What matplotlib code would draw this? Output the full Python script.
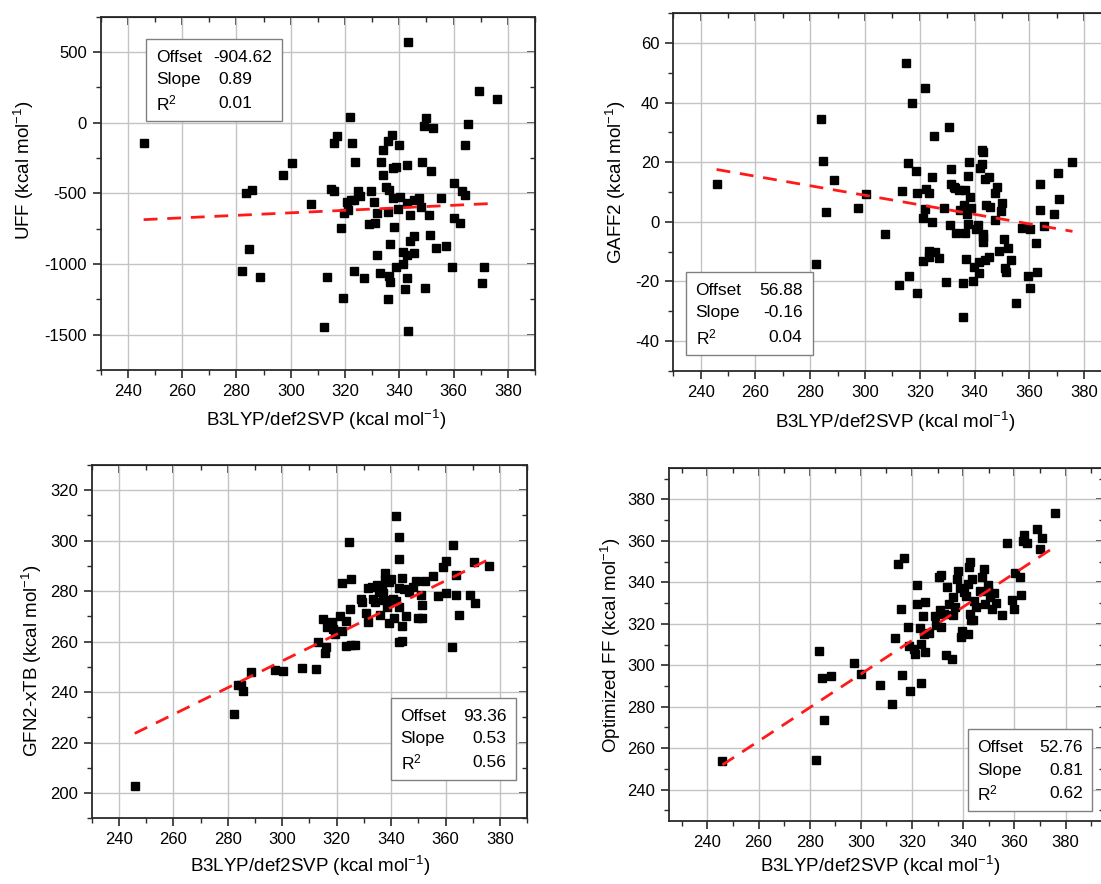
import matplotlib.pyplot as plt
from matplotlib.patches import Rectangle
from matplotlib.ticker import MultipleLocator

plt.rcParams['font.family'] = ['Liberation Sans', 'DejaVu Sans']
plt.rcParams['mathtext.default'] = 'regular'
plt.rcParams['axes.unicode_minus'] = False

# UFF vs B3LYP
uff_x = [245.8, 283.6, 285.7, 284.7, 282.1, 288.5, 297.2, 300.4, 307.5, 313.4, 312.4, 314.8, 316.1,
         315.8, 317.2, 322.0, 322.5, 323.7, 319.5, 318.5, 319.3, 320.7, 321.0, 322.3, 323.3, 325.4,
         324.7, 323.4, 327.0, 329.6, 329.0, 330.6, 331.1, 331.8, 331.8, 332.8, 333.4, 333.9, 334.0,
         334.9, 335.7, 336.0, 336.3, 336.3, 336.5, 336.0, 336.7, 337.4, 337.6, 337.6, 338.1, 338.7,
         338.7, 339.5, 339.9, 340.1, 341.2, 341.5, 342.2, 342.7, 342.8, 343.0, 343.0, 343.1, 343.2,
         343.9, 344.1, 345.3, 345.4, 345.4, 347.4, 348.0, 348.2, 349.2, 349.6, 350.0, 351.0, 351.4,
         351.7, 352.4, 353.4, 355.5, 357.2, 359.5, 360.3, 360.3, 362.4, 363.0, 364.0, 364.0, 365.4,
         369.3, 370.4, 371.1, 375.8]
uff_y = [-141, -499, -473, -892, -1048, -1090, -372, -282, -572, -1095, -1445, -466, -480,
         -144, -94, 40, -144, -280, -636, -742, -1243, -563, -619, -544, -546, -518,
         -483, -1052, -1099, -485, -716, -560, -709, -636, -935, -1062, -275, -372, -195,
         -454, -633, -127, -475, -1088, -1130, -1245, -857, -87, -322, -532, -737, -313,
         -1019, -610, -160, -525, -998, -918, -1179, -1097, -939, -297, -567, -1476, 574,
         -652, -836, -920, -548, -800, -532, -593, -275, -26, -1168, 33, -654, -798,
         -341, -38, -883, -534, -871, -1019, -426, -673, -709, -483, -513, -160, -7,
         226, -1135, -1019, 165]

# GAFF2 vs B3LYP
gaff_x = [245.8, 283.8, 284.8, 285.8, 288.7, 282.2, 297.3, 300.3, 307.4, 314.9, 321.9, 317.1, 330.5,
          325.1, 315.8, 318.5, 313.3, 318.9, 322.3, 323.5, 324.5, 321.9, 321.0, 324.5, 312.4, 316.1,
          319.1, 321.2, 323.3, 323.4, 325.5, 327.0, 329.5, 328.9, 330.9, 331.5, 331.5, 332.4, 332.9,
          334.1, 336.3, 334.7, 336.2, 337.3, 338.4, 338.6, 337.4, 338.0, 333.3, 336.4, 337.6, 335.8,
          335.8, 336.8, 339.3, 339.7, 340.4, 341.3, 341.5, 341.7, 342.1, 342.6, 342.6, 342.9, 343.7,
          345.2, 344.1, 345.6, 343.0, 342.9, 343.0, 343.8, 345.1, 347.5, 348.0, 347.6, 349.9, 349.6,
          349.0, 350.8, 351.2, 351.4, 352.2, 353.3, 355.2, 357.4, 360.3, 359.4, 360.3, 362.2, 362.8,
          363.9, 363.9, 365.2, 369.0, 370.3, 370.9, 375.7]
gaff_y = [12.8, 34.4, 20.5, 3.2, 14.1, -14.2, 4.7, 9.3, -4.2, 53.2, 44.8, 39.8, 31.9,
          28.7, 19.7, 16.9, 10.2, 9.6, 10.9, 9.6, 15.0, 4.3, 1.3, 0.0, -21.4, -18.3,
          -23.8, -13.3, -9.9, -11.9, -10.2, -12.3, -20.1, 4.6, -1.0, 17.8, 12.8, 11.6, 11.2,
          10.6, 10.8, 3.8, 5.7, 2.5, 8.3, 4.7, 15.3, 20.0, -3.8, -3.8, -0.8, -20.4,
          -32.1, -12.4, -19.8, -15.2, -2.3, -1.0, -13.4, -17.2, 17.9, 19.3, 24.0, 23.3, 14.5,
          15.0, 5.5, 5.1, -4.0, -5.1, -6.8, -12.7, -12.0, 9.7, 11.8, 0.7, 6.3, 3.7,
          -9.8, -5.8, -15.5, -16.8, -8.7, -12.9, -27.2, -2.0, -2.6, -18.2, -22.2, -7.0, -16.9,
          12.7, 3.8, -1.3, 2.6, 16.2, 7.7, 20.0]

# GFN2-xTB vs B3LYP
xtb_x = [245.8, 282.1, 283.6, 284.9, 285.4, 288.5, 297.2, 300.1, 307.3, 312.3, 313.2, 314.8, 315.6,
         316.0, 316.5, 318.4, 318.7, 319.2, 321.3, 321.8, 321.9, 323.3, 323.3, 324.5, 325.0, 325.4,
         325.4, 326.9, 328.9, 329.4, 331.4, 330.8, 331.6, 333.1, 333.5, 334.1, 334.9, 335.4, 335.9,
         336.5, 337.0, 337.8, 337.9, 337.5, 338.4, 339.2, 340.1, 339.2, 340.8, 341.2, 341.7, 341.9,
         343.0, 342.8, 342.8, 342.8, 344.1, 343.8, 343.0, 343.9, 344.9, 345.5, 346.6, 347.9, 349.1,
         349.8, 350.9, 351.3, 351.5, 352.5, 355.2, 357.2, 359.2, 360.3, 360.1, 362.2, 362.9, 363.8,
         363.8, 365.1, 369.0, 370.3, 370.8, 375.8]
xtb_y = [203.0, 231.4, 242.9, 242.9, 240.5, 248.0, 248.8, 248.4, 249.6, 249.1, 260.0, 269.0, 255.5,
         257.8, 265.7, 267.6, 265.0, 262.9, 270.2, 283.2, 264.1, 268.3, 258.3, 299.4, 272.8, 284.8,
         258.5, 258.7, 276.9, 275.6, 281.1, 271.2, 267.6, 281.8, 276.9, 275.8, 282.5, 279.5, 270.4,
         281.5, 279.1, 287.3, 284.5, 276.5, 273.6, 283.5, 284.8, 267.3, 277.0, 269.4, 309.6, 276.2,
         301.3, 292.8, 273.6, 281.2, 285.2, 266.1, 259.7, 260.3, 280.8, 270.2, 279.5, 281.8, 283.9,
         269.5, 278.5, 274.5, 269.4, 283.9, 286.0, 278.2, 289.4, 292.0, 279.4, 257.8, 298.1, 286.6,
         278.5, 270.5, 278.5, 291.5, 275.3, 289.8]

# Optimized FF vs B3LYP
opt_x = [245.9, 282.3, 283.7, 284.8, 285.5, 288.5, 297.2, 300.1, 307.3, 312.3, 313.2, 314.7, 316.9,
         315.7, 316.0, 318.3, 318.7, 319.1, 321.2, 320.9, 321.8, 322.1, 323.0, 323.3, 323.3, 324.3,
         324.6, 325.1, 325.2, 326.6, 328.9, 329.5, 330.6, 331.5, 330.9, 331.5, 333.2, 332.5, 333.8,
         334.3, 335.6, 335.9, 336.1, 336.7, 337.6, 337.8, 338.6, 339.0, 339.5, 340.4, 341.2, 341.7,
         341.9, 342.3, 342.8, 342.5, 343.2, 343.8, 343.6, 344.1, 345.1, 346.4, 347.5, 348.0, 348.5,
         349.6, 349.8, 350.6, 351.4, 351.9, 352.9, 355.0, 357.0, 359.2, 360.1, 360.0, 362.0, 362.7,
         363.6, 363.5, 364.9, 368.8, 370.0, 370.8, 375.7]
opt_y = [253.7, 254.3, 306.8, 294.0, 273.6, 294.9, 301.2, 295.9, 290.3, 281.1, 313.1, 348.7, 351.7,
         326.9, 295.4, 318.5, 309.2, 287.4, 305.2, 307.9, 338.9, 329.6, 318.0, 310.3, 291.5, 324.0,
         315.1, 330.4, 306.6, 315.5, 323.8, 319.6, 342.4, 343.4, 326.7, 318.4, 305.0, 324.8, 337.9,
         329.6, 303.1, 332.8, 324.3, 328.0, 341.6, 345.5, 337.3, 313.5, 316.4, 335.2, 333.4, 315.1,
         339.2, 347.6, 350.0, 324.8, 321.6, 321.6, 341.6, 331.2, 328.0, 336.0, 342.4, 346.4, 329.6,
         338.9, 336.0, 332.8, 327.2, 335.0, 329.9, 324.3, 359.0, 331.7, 344.7, 326.9, 342.8, 333.8,
         362.7, 359.8, 358.8, 365.6, 355.9, 361.4, 373.3]

offsets = [-904.62, 56.88, 93.36, 52.76]
slopes = [0.89, -0.16, 0.53, 0.81]
r2s = [0.01, 0.04, 0.56, 0.62]
ylabels = ['UFF', 'GAFF2', 'GFN2-xTB', 'Optimized FF']
xlabel = 'B3LYP/def2SVP (kcal mol$^{-1}$)'

xs = [uff_x, gaff_x, xtb_x, opt_x]
ys = [uff_y, gaff_y, xtb_y, opt_y]

W, H = 1101, 884

# layout: axes rect, limits, tick steps, stats box, label centres (pixels from top-left)
layout = [
    dict(rect=[0.0915, 0.5814, 0.3945, 0.3997], xlim=(230, 390), ylim=(-1750, 750), ymaj=500, ymin=250,
         box=(0.1036, 0.705, 0.418, 0.936), lx=0.1266, vx=[0.258, 0.271, 0.271], ha='left',
         rows=[0.885, 0.821, 0.755], xl=(326, 420), yl=(24, 170)),
    dict(rect=[0.6115, 0.5807, 0.3982, 0.4043], xlim=(230, 390), ylim=(-50, 70), ymaj=20, ymin=10,
         box=(0.029, 0.044, 0.318, 0.2753), lx=0.051, vx=[0.295] * 3, ha='right',
         rows=[0.224, 0.162, 0.094], xl=(895, 422), yl=(616, 182)),
    dict(rect=[0.0833, 0.0743, 0.3956, 0.3997], xlim=(230, 390), ylim=(190, 330), ymaj=20, ymin=10,
         box=(0.688, 0.108, 0.974, 0.340), lx=0.709, vx=[0.9527] * 3, ha='right',
         rows=[0.2876, 0.2264, 0.1574], xl=(310, 866), yl=(32, 661)),
    dict(rect=[0.6076, 0.0716, 0.3951, 0.3986], xlim=(225, 395), ylim=(225, 395), ymaj=20, ymin=10,
         box=(0.688, 0.0275, 0.973, 0.2594), lx=0.709, vx=[0.952] * 3, ha='right',
         rows=[0.2083, 0.1439, 0.0778], xl=(880, 866), yl=(611, 645)),
]

fig = plt.figure(figsize=(W / 100, H / 100), dpi=100)

for i in range(4):
    L = layout[i]
    ax = fig.add_axes(L['rect'])
    ax.set_xlim(*L['xlim'])
    ax.set_ylim(*L['ylim'])
    ax.xaxis.set_major_locator(MultipleLocator(20))
    ax.xaxis.set_minor_locator(MultipleLocator(10))
    ax.yaxis.set_major_locator(MultipleLocator(L['ymaj']))
    ax.yaxis.set_minor_locator(MultipleLocator(L['ymin']))
    ax.grid(True, which='major', color='#c4c4c4', linewidth=1.0)
    ax.set_axisbelow(True)
    for sp in ax.spines.values():
        sp.set_color('#2a2a2a')
        sp.set_linewidth(1.3)
    ax.tick_params(which='major', direction='out', length=6, width=1.2, labelsize=12,
                   color='#2a2a2a', pad=4)
    ax.tick_params(which='minor', direction='out', length=3.5, width=1.0, color='#2a2a2a')

    # top / right ticks pointing inwards
    top = ax.secondary_xaxis('top')
    top.xaxis.set_major_locator(MultipleLocator(20))
    top.xaxis.set_minor_locator(MultipleLocator(10))
    top.tick_params(which='major', direction='in', length=6, width=1.2, labeltop=False, color='#2a2a2a')
    top.tick_params(which='minor', direction='in', length=3.5, width=1.0, color='#2a2a2a')
    right = ax.secondary_yaxis('right')
    right.yaxis.set_major_locator(MultipleLocator(L['ymaj']))
    right.yaxis.set_minor_locator(MultipleLocator(L['ymin']))
    right.tick_params(which='major', direction='in', length=6, width=1.2, labelright=False, color='#2a2a2a')
    right.tick_params(which='minor', direction='in', length=3.5, width=1.0, color='#2a2a2a')

    x = xs[i]
    y = ys[i]
    ax.plot(x, y, 's', color='black', markersize=6, zorder=3)

    fx = [min(x), max(x)]
    fy = [offsets[i] + slopes[i] * v for v in fx]
    ax.plot(fx, fy, color='#ff1a1a', linewidth=2, dashes=(5, 3.5), zorder=4)

    # axis titles placed where the original has them
    fig.text(L['xl'][0] / W, 1 - L['xl'][1] / H, xlabel, fontsize=13.5, ha='center', va='center')
    fig.text(L['yl'][0] / W, 1 - L['yl'][1] / H, ylabels[i] + ' (kcal mol$^{-1}$)', fontsize=13.5,
             rotation=90, ha='center', va='center')

    x0, y0, x1, y1 = L['box']
    ax.add_patch(Rectangle((x0, y0), x1 - x0, y1 - y0, transform=ax.transAxes,
                           facecolor='white', edgecolor='#808080', linewidth=1.0, zorder=5))
    names = ['Offset', 'Slope', 'R$^2$']
    vals = ['%.2f' % offsets[i], '%.2f' % slopes[i], '%.2f' % r2s[i]]
    for j in range(3):
        ax.text(L['lx'], L['rows'][j], names[j], transform=ax.transAxes, fontsize=12.5,
                va='center', ha='left', zorder=6)
        ax.text(L['vx'][j], L['rows'][j], vals[j], transform=ax.transAxes, fontsize=12.5,
                va='center', ha=L['ha'], zorder=6)

fig.savefig('out.png', dpi=100)
